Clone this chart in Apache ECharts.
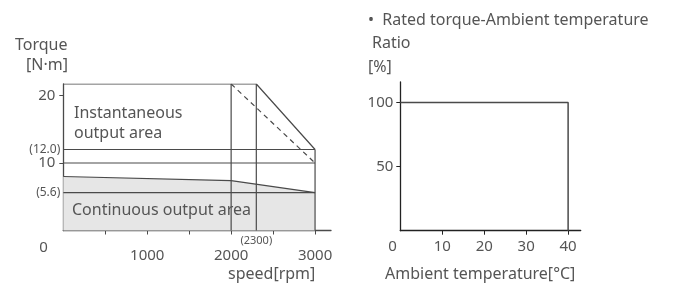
<!DOCTYPE html>
<html>
<head>
<meta charset="utf-8">
<script src="https://cdn.jsdelivr.net/npm/echarts@6/dist/echarts.min.js"></script>
<style>
  html, body { margin: 0; padding: 0; background: #fff; }
  main { width: 680px; height: 284px; }
</style>
</head>
<body>
<main></main>
<script>
;(function () {
  // speed - torque characteristics
  const peakSpeed = [0, 2300, 3000]
  const peakTorque = [21.7, 21.7, 12.0]
  const contSpeed = [0, 2000, 3000]
  const contTorque = [8.0, 7.4, 5.6]
  const dashSpeed = [2000, 3000]
  const dashTorque = [21.7, 10]
  const levelTorque = [12.0, 10, 5.6]
  const cornerSpeed = [2000, 2300]
  const speedTicks = [500, 1000, 1500, 2000, 2500, 3000]
  const speedLabels = [0, 1000, 2000, 2300, 3000]
  const torqueTicks = [10, 20]
  const torqueLabels = [5.6, 10, 12, 20]

  // rated torque - ambient temperature
  const tempX = [0, 40, 40]
  const ratioY = [100, 100, 0]
  const tempTicks = [10, 20, 30, 40]
  const tempLabels = [0, 10, 20, 30, 40]
  const ratioTicks = [50, 100]

  const font = '"Noto Sans", sans-serif'
  const txt = '#555'
  const ink = '#4a4a4a'

  const pairs = (xs, ys) => xs.map((x, i) => [x, ys[i]])
  const seg = (data, extra) =>
    Object.assign({ type: 'line', data, symbol: 'none', silent: true, lineStyle: { color: ink, width: 1.2 } }, extra)

  const series = [
    seg(pairs(contSpeed, contTorque), { areaStyle: { color: '#e6e6e6', opacity: 1 }, z: 1 }),
    seg(pairs(peakSpeed, peakTorque)),
    seg(pairs(dashSpeed, dashTorque), { lineStyle: { color: ink, width: 1.2, type: [5, 4] } }),
  ]
  for (const t of levelTorque) series.push(seg([[0, t], [3000, t]]))
  for (const s of cornerSpeed) series.push(seg([[s, 0], [s, peakTorque[0]]]))
  series.push(seg([[3000, 0], [3000, peakTorque[2]]]))
  series.push(
    seg(pairs(tempX, ratioY), { xAxisIndex: 1, yAxisIndex: 1, lineStyle: { color: ink, width: 1.5 } })
  )

  const label = (text, left, y, spacing) => ({
    type: 'text',
    z: 100,
    left,
    top: y - 10,
    style: { text, fill: txt, font: `16px ${font}`, lineHeight: 20, letterSpacing: spacing || 0 },
  })

  const chart = echarts.init(document.querySelector('main'))
  chart.setOption({
    animation: false,
    grid: [
      { left: 63.3, right: 349, top: 84, bottom: 53.5, outerBoundsMode: 'none' },
      { left: 400.3, right: 99.3, top: 82, bottom: 53.3, outerBoundsMode: 'none' },
    ],
    xAxis: [
      {
        type: 'value',
        gridIndex: 0,
        min: 0,
        max: 3190,
        interval: 500,
        splitLine: { show: false },
        axisLine: { lineStyle: { color: ink, width: 1.3 } },
        axisTick: { customValues: speedTicks, length: 4, lineStyle: { color: ink } },
        axisLabel: {
          customValues: speedLabels,
          margin: 2,
          color: txt,
          fontFamily: font,
          formatter: (v) => (v === 0 ? '{z|0}' : v === 2300 ? '{s|(2300)}' : `{n|${v}}`),
          rich: {
            z: { fontSize: 15, width: 48, align: 'left', lineHeight: 30, fontFamily: font, color: txt },
            n: { fontSize: 15, lineHeight: 46, fontFamily: font, color: txt, letterSpacing: -1 },
            s: { fontSize: 11, lineHeight: 16, fontFamily: font, color: txt, letterSpacing: -0.8 },
          },
        },
      },
      {
        type: 'value',
        gridIndex: 1,
        min: 0,
        max: 43,
        interval: 10,
        splitLine: { show: false },
        axisLine: { lineStyle: { color: '#222', width: 1.3 } },
        axisTick: { customValues: tempTicks, length: 4, lineStyle: { color: '#222' } },
        axisLabel: {
          customValues: tempLabels,
          margin: 8,
          formatter: (v) => (v === 0 ? '{z|0}' : `{n|${v}}`),
          rich: {
            z: { fontSize: 15, width: 24, align: 'left', lineHeight: 16, fontFamily: font, color: txt },
            n: { fontSize: 15, lineHeight: 16, fontFamily: font, color: txt },
          },
        },
      },
    ],
    yAxis: [
      {
        type: 'value',
        gridIndex: 0,
        min: 0,
        max: peakTorque[0],
        interval: 10,
        splitLine: { show: false },
        axisLine: { lineStyle: { color: ink, width: 1.3 } },
        axisTick: { customValues: torqueTicks, length: 4, lineStyle: { color: ink } },
        axisLabel: {
          customValues: torqueLabels,
          margin: 3,
          formatter: (v) => (v === 12 ? '{p|(12.0)}' : v === 5.6 ? '{p|(5.6)}' : `{n|${v}}`),
          rich: {
            n: { fontSize: 15, padding: [0, 5, 0, 0], fontFamily: font, color: txt },
            p: { fontSize: 12, fontFamily: font, color: txt, letterSpacing: -0.5 },
          },
        },
      },
      {
        type: 'value',
        gridIndex: 1,
        min: 0,
        max: 116,
        interval: 50,
        splitLine: { show: false },
        axisLine: { lineStyle: { color: '#222', width: 1.3 } },
        axisTick: { customValues: ratioTicks, length: 4, lineStyle: { color: '#222' } },
        axisLabel: { customValues: ratioTicks, margin: 7, fontSize: 15, fontFamily: font, color: txt },
      },
    ],
    graphic: [
      label('Torque', 15, 45, 0.6),
      label('[N·m]', 26, 65),
      label('Instantaneous\noutput area', 74, 113),
      label('Continuous output area', 72, 210),
      label('speed[rpm]', 228, 274),
      label('•  Rated torque-Ambient temperature', 368, 20, 0.4),
      label('Ratio', 372, 43),
      label('[%]', 368, 67),
      label('Ambient temperature[°C]', 385, 274),
    ],
    series,
  })
})()
</script>
</body>
</html>
